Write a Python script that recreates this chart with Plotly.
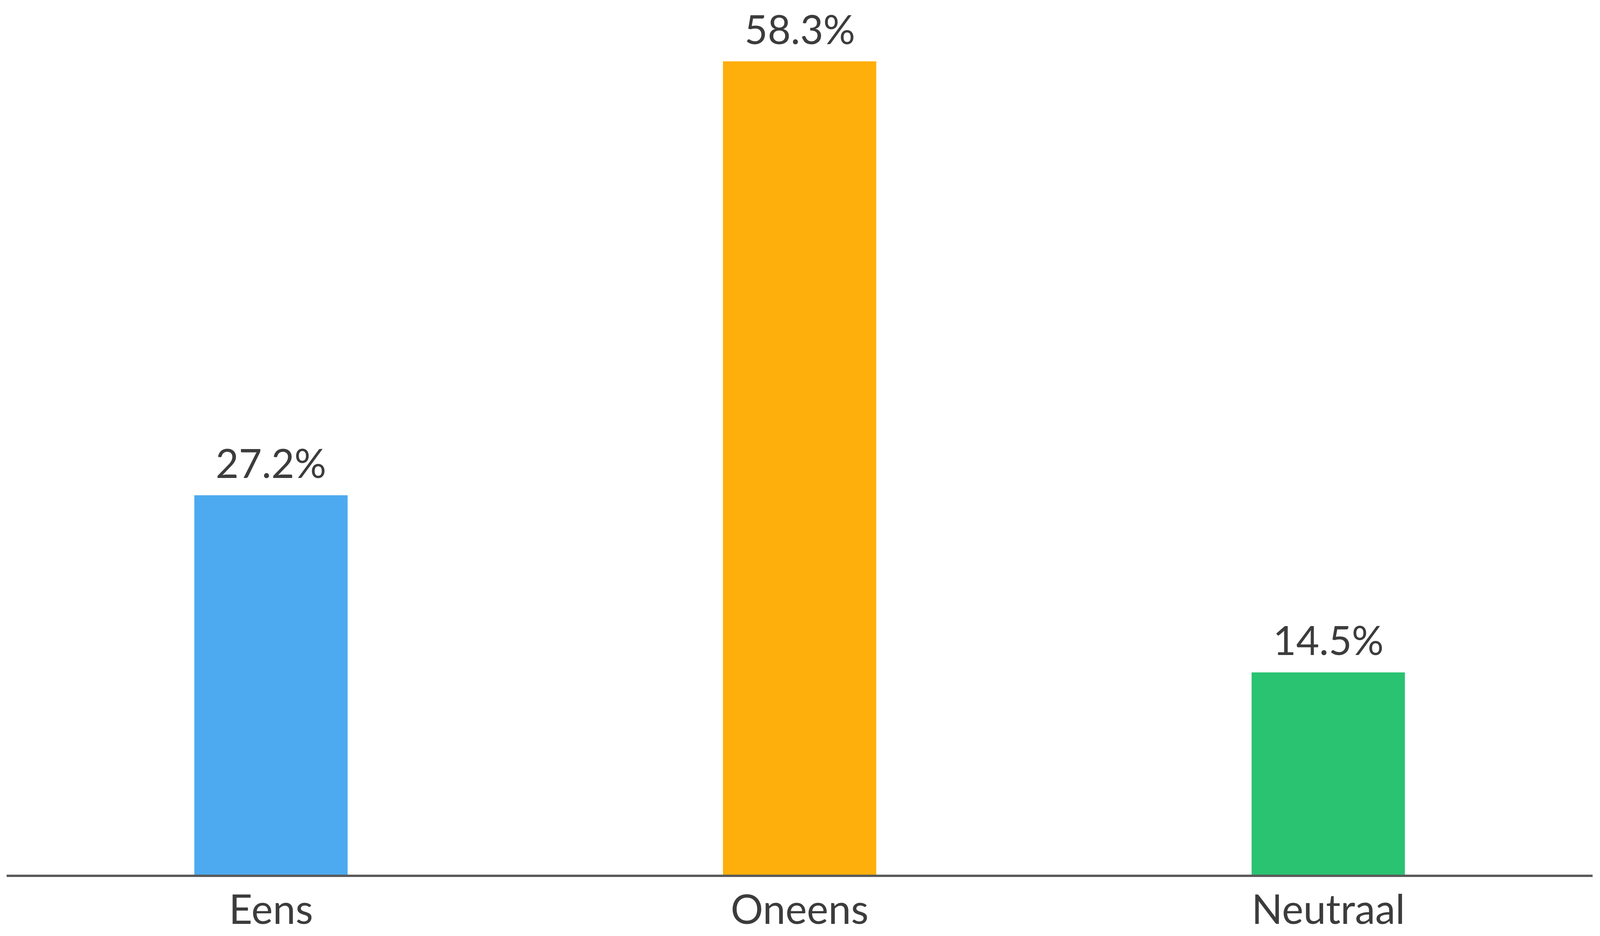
import plotly.graph_objects as go

categories = ["Eens", "Oneens", "Neutraal"]
values = [27.2, 58.3, 14.5]
labels = ["27.2%", "58.3%", "14.5%"]
colors = ["#4DAAF0", "#FFAF0B", "#2AC371"]

FONT = "Lato, Nunito, 'Open Sans', sans-serif"
TEXT_COLOR = "#3c3c3c"

fig = go.Figure()
fig.add_trace(go.Bar(
    x=categories,
    y=values,
    marker=dict(color=colors, line=dict(width=0)),
    width=0.29,
    hoverinfo="skip",
))

for c, v, t in zip(categories, values, labels):
    fig.add_annotation(
        x=c, y=v, text=t, showarrow=False,
        xanchor="center", yanchor="bottom", yshift=20,
        font=dict(family=FONT, size=102, color=TEXT_COLOR),
    )

fig.update_layout(
    width=4093, height=2387,
    margin=dict(l=9, r=24, t=17, b=152),
    paper_bgcolor="white", plot_bgcolor="white",
    showlegend=False,
    font=dict(family=FONT, size=104, color=TEXT_COLOR),
    bargap=0.71,
)
fig.update_xaxes(
    showline=True, linecolor="#5a5a5a", linewidth=6,
    showgrid=False, ticks="", zeroline=False,
    tickfont=dict(family=FONT, size=104, color=TEXT_COLOR),
    ticklabelstandoff=-5,
    range=[-0.5, 2.5],
)
fig.update_yaxes(
    visible=False, range=[0, 62], showgrid=False, zeroline=False,
)

fig.write_html("out.html")
